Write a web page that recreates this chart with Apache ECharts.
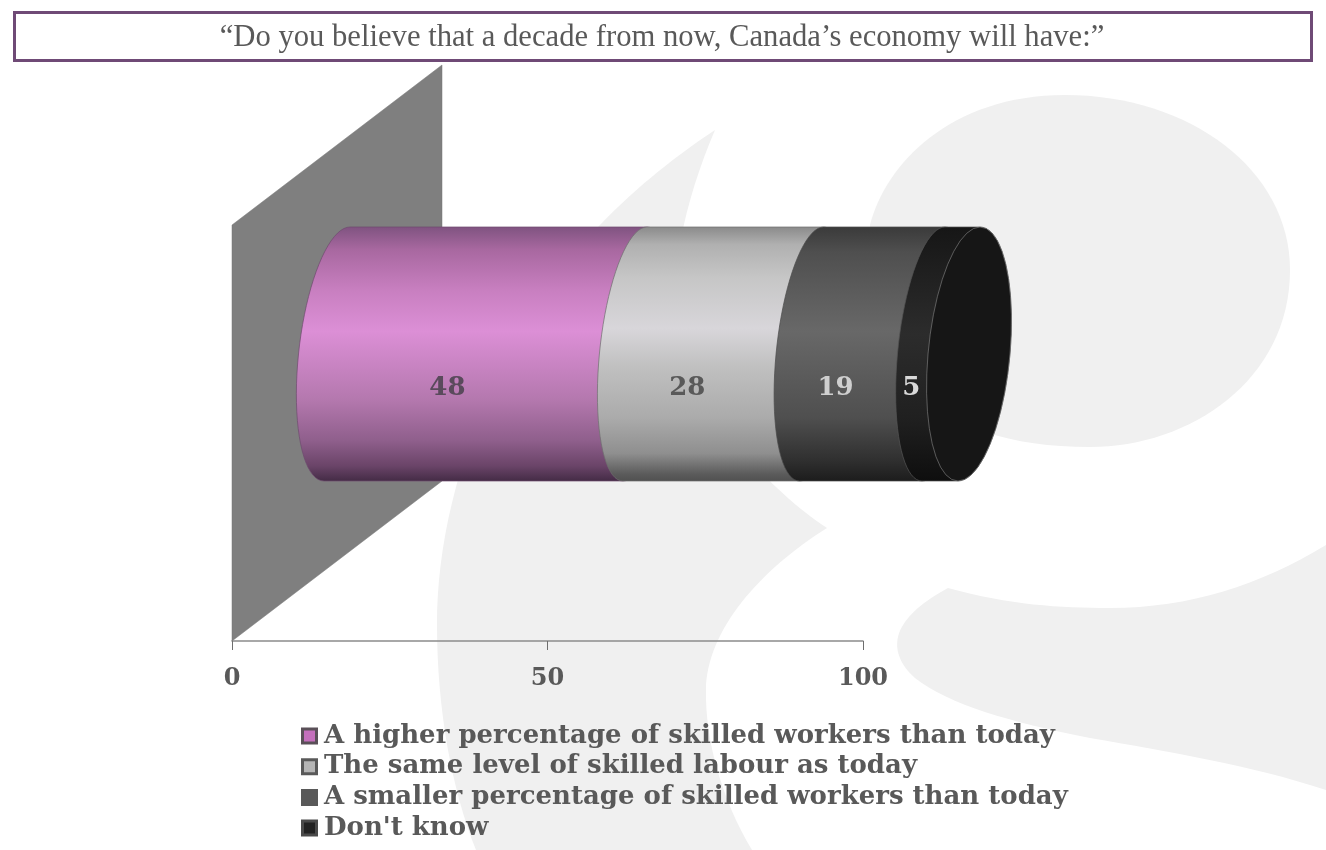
<!DOCTYPE html>
<html>
<head>
<meta charset="utf-8">
<style>html,body{margin:0;padding:0;background:#fff}#c{width:1326px;height:850px}</style>
<script src="https://cdn.jsdelivr.net/npm/echarts@6/dist/echarts.min.js"></script>
</head>
<body>
<div id="c"></div>
<script>
const titleText = '\u201CDo you believe that a decade from now, Canada\u2019s economy will have:\u201D';
const categories = ['Response'];
const seriesNames = [
  'A higher percentage of skilled workers than today',
  'The same level of skilled labour as today',
  'A smaller percentage of skilled workers than today',
  "Don't know"
];
const seriesValues = [48, 28, 19, 5];
const axisTicks = [0, 50, 100];
const swatchColors = ['#c46fbc', '#b5b5b5', '#595959', '#222222'];
const swatchBorders = ['#5a5058', '#595959', '#595959', '#4a4a4a'];
const labelColors = ['#5a4a5c', '#595959', '#cfcfcf', '#d9d9d9'];
const edgeColors = ['#6e4a6e', '#6f6f6f', '#4a4a4a', '#555555'];
const gradients = [
  [[0, '#7f5380'], [0.09, '#a868a0'], [0.25, '#c87fc0'], [0.41, '#dc8fd6'], [0.68, '#b478ae'], [0.84, '#8f5f8c'], [0.94, '#6a4468'], [1, '#432b45']],
  [[0, '#8a8a8a'], [0.07, '#b0b0b0'], [0.2, '#c6c6c6'], [0.4, '#d8d6da'], [0.55, '#c0c0c0'], [0.75, '#ababab'], [0.89, '#8f8f8f'], [0.97, '#5c5c5c'], [1, '#505050']],
  [[0, '#3a3a3a'], [0.1, '#4f4f4f'], [0.41, '#686868'], [0.75, '#4f4f4f'], [0.92, '#2f2f2f'], [1, '#1c1c1c']],
  [[0, '#161616'], [0.42, '#2c2c2c'], [0.75, '#202020'], [1, '#0e0e0e']]
];
const capColor = '#161616';
const FONT_SERIF_BOLD = '"DejaVu Serif", serif';

const DEPTH_X = 105, DEPTH_Y = -79, WALL_X = 210, WALL_Y = -160;
const RADIUS_RATIO = 0.3053;
const LABEL_DX = 64, LABEL_DY = -45;
// Ellipse look of each segment's left end: sideways shift, half width, skew
const endShapes = [
  { shift: 0, a: 38.5, s: 13 },
  { shift: -5, a: 35.5, s: 12 },
  { shift: -5, a: 35.5, s: 12 },
  { shift: -3, a: 36, s: 11.5 }
];
const capShape = { shift: 1, a: 41, s: 11 };

function arc(cx, cy, r, from, to, e) {
  const pts = [];
  const n = 40;
  for (let i = 0; i <= n; i++) {
    const t = (from + (to - from) * i / n) * Math.PI / 180;
    pts.push([cx + e.shift + e.a * Math.cos(t) + e.s * Math.sin(t), cy - r * Math.sin(t)]);
  }
  return pts;
}

let running = 0;
const spans = seriesValues.map(v => { const s = [running, running + v, 0]; running += v; return s; });

const wallSeries = {
  type: 'custom', name: 'wall', silent: true, clip: false, z: 1,
  data: [[0, 0]], encode: { x: 0, y: 1 },
  renderItem(params, api) {
    const p = api.coord([api.value(0), 0]);
    const h = api.size([0, 1])[1];
    return {
      type: 'polygon',
      shape: { points: [
        [p[0], p[1] - h / 2], [p[0] + WALL_X, p[1] - h / 2 + WALL_Y],
        [p[0] + WALL_X, p[1] + h / 2 + WALL_Y], [p[0], p[1] + h / 2]
      ] },
      style: { fill: '#7f7f7f', stroke: '#777777', lineWidth: 0.5 }
    };
  }
};

const segmentSeries = seriesNames.map((name, i) => ({
  type: 'custom', name, silent: true, clip: false, z: 3 + i,
  itemStyle: { color: swatchColors[i] },
  encode: { x: [0, 1], y: 2 },
  data: [spans[i]],
  renderItem(params, api) {
    const a = api.coord([api.value(0), 0]);
    const b = api.coord([api.value(1), 0]);
    const r = api.size([0, 1])[1] * RADIUS_RATIO;
    const cy = a[1] + DEPTH_Y;
    const x0 = a[0] + DEPTH_X, x1 = b[0] + DEPTH_X;
    const rightShape = endShapes[i + 1] || capShape;
    const pts = arc(x0, cy, r, 90, 270, endShapes[i]).concat(arc(x1, cy, r, 270, 450, rightShape));
    const children = [{
      type: 'polygon',
      shape: { points: pts },
      style: {
        fill: new echarts.graphic.LinearGradient(0, 0, 0, 1,
          gradients[i].map(s => ({ offset: s[0], color: s[1] }))),
        stroke: edgeColors[i], lineWidth: 0.7
      }
    }];
    if (i === seriesNames.length - 1) {
      children.push({
        type: 'polygon',
        shape: { points: arc(x1, cy, r, 0, 360, capShape) },
        style: { fill: capColor, stroke: '#8a8a8a', lineWidth: 0.6 }
      });
    }
    children.push({
      type: 'text',
      style: {
        x: (a[0] + b[0]) / 2 + LABEL_DX,
        y: a[1] + LABEL_DY,
        text: String(seriesValues[i]),
        align: 'center', verticalAlign: 'middle',
        font: 'bold 26px ' + FONT_SERIF_BOLD,
        fill: labelColors[i]
      }
    });
    return { type: 'group', children };
  }
}));

const watermark = [
  'M715 130 C640 180 560 250 505 360 C455 460 437 550 437 625 C437 710 452 790 476 850 L752 850 C722 800 705 740 706 690 C707 630 760 570 827 528 C770 490 705 420 680 340 C665 285 685 200 715 130 Z',
  'M870 225 C885 165 950 95 1065 95 C1190 95 1290 170 1290 270 C1290 380 1190 447 1090 447 C1050 447 1015 442 985 432 L870 300 Z',
  'M948 588 C1010 605 1060 608 1110 608 C1190 608 1260 585 1326 545 L1326 790 C1250 765 1170 752 1090 738 C1010 722 950 705 915 678 C895 660 892 640 905 622 C915 608 930 598 948 588 Z'
];
watermark.forEach((d, i) => {
  echarts.graphic.registerShape('watermark' + i, echarts.graphic.extendPath(d, {}));
});

const option = {
  animation: false,
  backgroundColor: '#ffffff',
  textStyle: { fontFamily: FONT_SERIF_BOLD },
  grid: { left: 232, right: 463, top: 225, bottom: 209, containLabel: false },
  xAxis: {
    type: 'value', min: axisTicks[0], max: axisTicks[axisTicks.length - 1], interval: axisTicks[1] - axisTicks[0],
    axisLine: { show: true, lineStyle: { color: '#8c8c8c', width: 1.5 } },
    axisTick: { show: true, length: 9, lineStyle: { color: '#6e6e6e', width: 1 } },
    splitLine: { show: false },
    axisLabel: { margin: 26, color: '#595959', fontFamily: FONT_SERIF_BOLD, fontWeight: 'bold', fontSize: 24 }
  },
  yAxis: { type: 'category', data: categories, show: false },
  legend: {
    orient: 'vertical', left: 301, top: 721, itemWidth: 14, itemHeight: 14, itemGap: 0.7,
    padding: 0, selectedMode: false, align: 'left',
    textStyle: { color: '#595959', fontFamily: FONT_SERIF_BOLD, fontWeight: 'bold', fontSize: 26, lineHeight: 30, padding: [0, 0, 0, 2.5] },
    data: seriesNames.map((name, i) => ({
      name, icon: 'rect',
      itemStyle: { color: swatchColors[i], borderColor: swatchBorders[i], borderWidth: 3 }
    }))
  },
  graphic: watermark.map((d, i) => ({
    type: 'watermark' + i, z: -10, silent: true,
    style: { fill: '#f0f0f0' }
  })).concat([
    { type: 'rect', z: -5, silent: true, shape: { x: 14.5, y: 12.5, width: 1297, height: 48 },
      style: { fill: '#ffffff', stroke: '#6f4a76', lineWidth: 3 } },
    { type: 'text', z: -4, silent: true,
      style: { x: 662, y: 38, text: titleText, align: 'center', verticalAlign: 'middle',
        font: '30.65px "Liberation Serif", serif', fill: '#595959' } }
  ]),
  series: [wallSeries].concat(segmentSeries)
};

echarts.init(document.getElementById('c'), null, { renderer: 'canvas' }).setOption(option);
</script>
</body>
</html>
